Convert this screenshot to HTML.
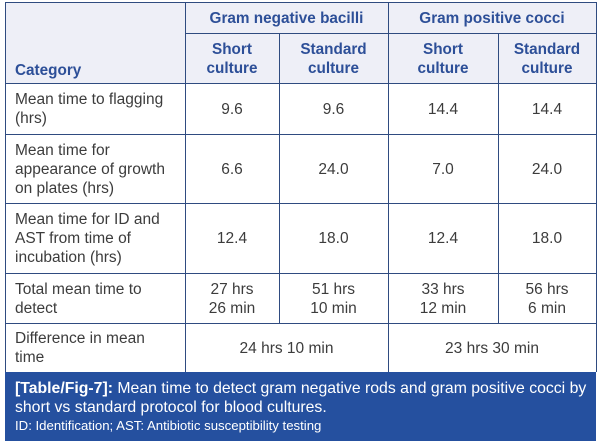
<!DOCTYPE html>
<html>
<head>
<meta charset="utf-8">
<style>
  html,body{margin:0;padding:0;background:#fff;}
  body{width:600px;height:446px;position:relative;overflow:hidden;font-family:"Liberation Sans",Arial,sans-serif;}
  .hbg{position:absolute;left:5px;top:2px;width:591px;height:81px;background:#eeeff7;}
  .h{position:absolute;height:1px;background:#2f4b80;}
  .v{position:absolute;width:1px;background:#2f4b80;}
  .c{position:absolute;display:flex;align-items:center;justify-content:center;text-align:center;font-size:15.5px;line-height:19px;color:#3c3c3c;}
  .l{justify-content:flex-start;text-align:left;padding-left:10px;box-sizing:border-box;}
  .hd{color:#2d4f98;font-weight:bold;font-size:15.3px;}
  .cap{position:absolute;left:5px;top:372px;width:591px;height:69px;background:#25509f;color:#fff;}
</style>
</head>
<body>
<div class="hbg"></div>

<!-- horizontal lines -->
<div class="h" style="left:5px;top:2px;width:592px;"></div>
<div class="h" style="left:185px;top:33px;width:412px;"></div>
<div class="h" style="left:5px;top:83px;width:592px;"></div>
<div class="h" style="left:5px;top:134px;width:592px;"></div>
<div class="h" style="left:5px;top:203px;width:592px;"></div>
<div class="h" style="left:5px;top:273px;width:592px;"></div>
<div class="h" style="left:5px;top:323px;width:592px;"></div>

<!-- vertical lines -->
<div class="v" style="left:5px;top:2px;height:370px;"></div>
<div class="v" style="left:596px;top:2px;height:370px;"></div>
<div class="v" style="left:185px;top:2px;height:370px;"></div>
<div class="v" style="left:388px;top:2px;height:370px;"></div>
<div class="v" style="left:279px;top:33px;height:290px;"></div>
<div class="v" style="left:498px;top:33px;height:290px;"></div>

<!-- header -->
<div class="c hd" style="left:185px;top:3px;width:203px;height:30px;">Gram negative bacilli</div>
<div class="c hd" style="left:388px;top:3px;width:208px;height:30px;">Gram positive cocci</div>
<div class="c hd l" style="left:5px;top:3px;width:180px;height:80px;align-items:flex-end;padding-bottom:3px;">Category</div>
<div class="c hd" style="left:185px;top:34px;width:94px;height:49px;">Short<br>culture</div>
<div class="c hd" style="left:279px;top:34px;width:109px;height:49px;">Standard<br>culture</div>
<div class="c hd" style="left:388px;top:34px;width:110px;height:49px;">Short<br>culture</div>
<div class="c hd" style="left:498px;top:34px;width:98px;height:49px;">Standard<br>culture</div>

<!-- row 1 -->
<div class="c l" style="left:5px;top:84px;width:180px;height:50px;">Mean time to flagging<br>(hrs)</div>
<div class="c" style="left:185px;top:84px;width:94px;height:50px;">9.6</div>
<div class="c" style="left:279px;top:84px;width:109px;height:50px;">9.6</div>
<div class="c" style="left:388px;top:84px;width:110px;height:50px;">14.4</div>
<div class="c" style="left:498px;top:84px;width:98px;height:50px;">14.4</div>

<!-- row 2 -->
<div class="c l" style="left:5px;top:135px;width:180px;height:68px;">Mean time for<br>appearance of growth<br>on plates (hrs)</div>
<div class="c" style="left:185px;top:135px;width:94px;height:68px;">6.6</div>
<div class="c" style="left:279px;top:135px;width:109px;height:68px;">24.0</div>
<div class="c" style="left:388px;top:135px;width:110px;height:68px;">7.0</div>
<div class="c" style="left:498px;top:135px;width:98px;height:68px;">24.0</div>

<!-- row 3 -->
<div class="c l" style="left:5px;top:204px;width:180px;height:69px;">Mean time for ID and<br>AST from time of<br>incubation (hrs)</div>
<div class="c" style="left:185px;top:204px;width:94px;height:69px;">12.4</div>
<div class="c" style="left:279px;top:204px;width:109px;height:69px;">18.0</div>
<div class="c" style="left:388px;top:204px;width:110px;height:69px;">12.4</div>
<div class="c" style="left:498px;top:204px;width:98px;height:69px;">18.0</div>

<!-- row 4 -->
<div class="c l" style="left:5px;top:274px;width:180px;height:49px;">Total mean time to<br>detect</div>
<div class="c" style="left:185px;top:274px;width:94px;height:49px;">27 hrs<br>26 min</div>
<div class="c" style="left:279px;top:274px;width:109px;height:49px;">51 hrs<br>10 min</div>
<div class="c" style="left:388px;top:274px;width:110px;height:49px;">33 hrs<br>12 min</div>
<div class="c" style="left:498px;top:274px;width:98px;height:49px;">56 hrs<br>6 min</div>

<!-- row 5 -->
<div class="c l" style="left:5px;top:324px;width:180px;height:48px;">Difference in mean<br>time</div>
<div class="c" style="left:185px;top:324px;width:203px;height:48px;">24 hrs 10 min</div>
<div class="c" style="left:388px;top:324px;width:208px;height:48px;">23 hrs 30 min</div>

<!-- caption -->
<div class="cap">
  <div style="position:absolute;left:10px;top:7px;width:580px;font-size:15.8px;line-height:19px;white-space:nowrap;"><b>[Table/Fig-7]:</b> Mean time to detect gram negative rods and gram positive cocci by<br>short vs standard protocol for blood cultures.</div>
  <div style="position:absolute;left:10px;top:46px;font-size:13.2px;line-height:16px;white-space:nowrap;">ID: Identification; AST: Antibiotic susceptibility testing</div>
</div>
</body>
</html>
